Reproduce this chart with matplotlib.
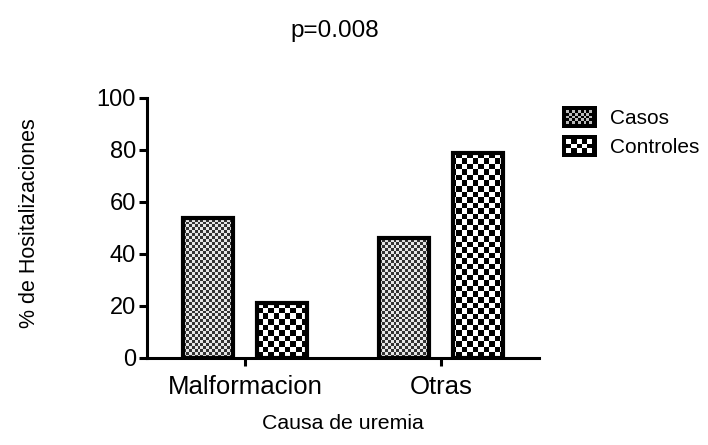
import numpy as np
import matplotlib
matplotlib.use("Agg")
import matplotlib.pyplot as plt
from matplotlib.patches import Rectangle
from matplotlib.legend_handler import HandlerBase

plt.rcParams['font.family'] = ['Liberation Sans', 'DejaVu Sans']

categories = ['Malformacion', 'Otras']
series_names = ['Casos', 'Controles']
casos = [54, 46]
controles = [21, 79]
title_text = 'p=0.008'
ylabel_text = '% de Hositalizaciones'
xlabel_text = 'Causa de uremia'
yticks = [0, 20, 40, 60, 80, 100]

fig = plt.figure(figsize=(7.08, 4.45), dpi=100)
ax = fig.add_axes([147/708, 1-358/445, (539-147)/708, (358-98)/445])

x = np.arange(len(categories))
width = 0.255
offset = 0.189
xlim = (-0.5, 1.5)
ylim = (0, 100)


def checker(rows, cols, dark, light):
    rr, cc = np.indices((rows, cols))
    return np.where((rr + cc) % 2 == 0, dark, light)


tex_casos = checker(88, 132, 0.2, 0.9)
tex_ctrl = checker(47, 71, 0.0, 1.0)

bars_c = ax.bar(x - offset, casos, width, facecolor='none', edgecolor='black',
                linewidth=3, zorder=3)
bars_k = ax.bar(x + offset, controles, width, facecolor='none', edgecolor='black',
                linewidth=3, zorder=3)

for bars, tex in ((bars_c, tex_casos), (bars_k, tex_ctrl)):
    for b in bars:
        im = ax.imshow(tex, cmap='gray', vmin=0, vmax=1, extent=[xlim[0], xlim[1], ylim[0], ylim[1]],
                       aspect='auto', interpolation='nearest', zorder=2, origin='lower')
        im.set_clip_path(b)

ax.set_xlim(*xlim)
ax.set_ylim(*ylim)
ax.set_xticks(x)
ax.set_xticklabels(categories)
ax.set_yticks(yticks)
for s in ['top', 'right']:
    ax.spines[s].set_visible(False)
for s in ['left', 'bottom']:
    ax.spines[s].set_linewidth(2.2)
ax.tick_params(axis='both', direction='out', length=6, width=2.2, pad=2)
ax.tick_params(axis='y', labelsize=17)
ax.tick_params(axis='x', labelsize=18.5, pad=6)
ax.set_ylabel(ylabel_text, fontsize=15.5)
ax.set_xlabel(xlabel_text, fontsize=15.3, labelpad=11)
ax.yaxis.set_label_coords(-0.274, 0.519)

fig.text(335/708, 1-31/445, title_text, ha='center', va='center', fontsize=17.5)


class CheckerHandler(HandlerBase):
    def __init__(self, ncols, nrows, light):
        super().__init__()
        self.ncols = ncols
        self.nrows = nrows
        self.light = light

    def create_artists(self, legend, orig_handle, xdescent, ydescent, width, height, fontsize, trans):
        arts = [Rectangle((-xdescent, -ydescent), width, height, facecolor='black',
                          edgecolor='black', lw=0, transform=trans)]
        pad = height * 0.2
        iw = width - 2 * pad
        ih = height - 2 * pad
        cw = iw / self.ncols
        ch = ih / self.nrows
        for i in range(self.nrows):
            for j in range(self.ncols):
                if (i + j) % 2 == 0:
                    arts.append(Rectangle((-xdescent + pad + j * cw, -ydescent + pad + i * ch), cw, ch,
                                          facecolor=self.light, lw=0, transform=trans))
        return arts


h1 = Rectangle((0, 0), 1, 1)
h2 = Rectangle((0, 0), 1, 1)
fig.legend([h1, h2], series_names, loc='upper left', bbox_to_anchor=(543/708, 1-87/445),
           frameon=False, fontsize=15, handlelength=1.68, handleheight=1.3,
           labelspacing=0.3, handletextpad=0.65,
           handler_map={h1: CheckerHandler(9, 5, '#bbbbbb'), h2: CheckerHandler(5, 3, 'white')})

fig.savefig('out.png', dpi=100)
